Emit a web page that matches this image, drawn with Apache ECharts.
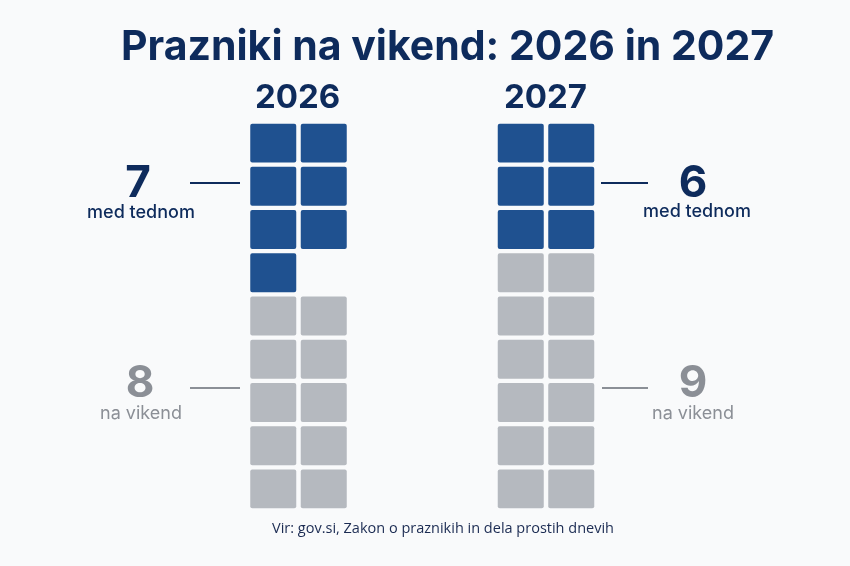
<!DOCTYPE html>
<html lang="sl">
<head>
<meta charset="UTF-8">
<title>Prazniki na vikend</title>
<script src="https://cdn.jsdelivr.net/npm/echarts@6/dist/echarts.min.js"></script>
<style>
  html, body { margin: 0; padding: 0; background: #f9fafb; }
</style>
</head>
<body>
<div id="main" style="width: 850px; height: 566px"></div>
<script>
// podatki
var years = ['2026', '2027'];
var weekdayHolidays = [7, 6];     // med tednom (številka na oznaki)
var weekendHolidays = [8, 9];     // na vikend (številka na oznaki)
var blueCells = [7, 6];           // narisane modre celice
var grayCells = [10, 12];         // narisane sive celice
var gridCols = ['a', 'b'];
var gridRows = ['1', '2', '3', '4', '5', '6', '7', '8', '9'];

var BLUE = '#1f5190';
var GRAY = '#b5b9bf';
var NAVY = '#0e2b5c';
var GRAY_TEXT = '#8b8f96';

// modre celice od zgoraj, sive se začnejo v novi vrstici
function cellsFor(i) {
    var out = [];
    for (var k = 0; k < blueCells[i]; k++) {
        out.push([k % 2, Math.floor(k / 2), 1]);
    }
    var startRow = Math.ceil(blueCells[i] / 2);
    for (var g = 0; g < grayCells[i]; g++) {
        out.push([g % 2, startRow + Math.floor(g / 2), 0]);
    }
    return out;
}

function renderCell(params, api) {
    var c = api.coord([api.value(0), api.value(1)]);
    var s = api.size([1, 1]);
    var w = s[0] - 4.5, h = s[1] - 4.3;
    return {
        type: 'rect',
        shape: { x: c[0] - w / 2, y: c[1] - h / 2, width: w, height: h, r: 2 },
        style: { fill: api.value(2) ? BLUE : GRAY }
    };
}

var gridLeft = [248, 495.5];
var grids = [], xAxes = [], yAxes = [], series = [];
years.forEach(function (y, i) {
    grids.push({ left: gridLeft[i], width: 101, top: 121.5, height: 389 });
    xAxes.push({ type: 'category', data: gridCols, gridIndex: i, show: false });
    yAxes.push({ type: 'category', data: gridRows, gridIndex: i, inverse: true, show: false });
    series.push({
        name: y, type: 'custom', xAxisIndex: i, yAxisIndex: i,
        renderItem: renderCell, data: cellsFor(i), silent: true
    });
});

var fontBold = 'Inter, Roboto, sans-serif';

var graphics = [
    // letnici nad stolpci
    { type: 'text', left: 255, top: 82, style: { text: years[0], font: 'bold 33px ' + fontBold, fill: NAVY } },
    { type: 'text', left: 504, top: 82, style: { text: years[1], font: 'bold 33px ' + fontBold, fill: NAVY } },

    // 2026 – med tednom
    { type: 'text', x: 138, y: 184, style: { text: String(weekdayHolidays[0]), font: 'bold 44px ' + fontBold, fill: NAVY, align: 'center', verticalAlign: 'middle' } },
    { type: 'text', x: 141, y: 213, style: { text: 'med tednom', font: '500 18px ' + fontBold, fill: NAVY, align: 'center', verticalAlign: 'middle' } },
    { type: 'line', shape: { x1: 190, y1: 183, x2: 240, y2: 183 }, style: { stroke: NAVY, lineWidth: 2 } },

    // 2026 – na vikend
    { type: 'text', x: 140, y: 384, style: { text: String(weekendHolidays[0]), font: 'bold 44px ' + fontBold, fill: GRAY_TEXT, align: 'center', verticalAlign: 'middle' } },
    { type: 'text', x: 141, y: 414, style: { text: 'na vikend', font: '18px ' + fontBold, fill: GRAY_TEXT, align: 'center', verticalAlign: 'middle' } },
    { type: 'line', shape: { x1: 190, y1: 388, x2: 240, y2: 388 }, style: { stroke: GRAY_TEXT, lineWidth: 2 } },

    // 2027 – med tednom
    { type: 'text', x: 693, y: 184, style: { text: String(weekdayHolidays[1]), font: 'bold 44px ' + fontBold, fill: NAVY, align: 'center', verticalAlign: 'middle' } },
    { type: 'text', x: 697, y: 212, style: { text: 'med tednom', font: '500 18px ' + fontBold, fill: NAVY, align: 'center', verticalAlign: 'middle' } },
    { type: 'line', shape: { x1: 601, y1: 183, x2: 648, y2: 183 }, style: { stroke: NAVY, lineWidth: 2 } },

    // 2027 – na vikend
    { type: 'text', x: 693, y: 384, style: { text: String(weekendHolidays[1]), font: 'bold 44px ' + fontBold, fill: GRAY_TEXT, align: 'center', verticalAlign: 'middle' } },
    { type: 'text', x: 693, y: 414, style: { text: 'na vikend', font: '18px ' + fontBold, fill: GRAY_TEXT, align: 'center', verticalAlign: 'middle' } },
    { type: 'line', shape: { x1: 602, y1: 388, x2: 648, y2: 388 }, style: { stroke: GRAY_TEXT, lineWidth: 2 } },

    // vir
    { type: 'text', x: 443, y: 529, style: { text: 'Vir: gov.si, Zakon o praznikih in dela prostih dnevih', font: '14.5px "Open Sans", Roboto, sans-serif', fill: '#1b2b52', align: 'center', verticalAlign: 'middle' } }
];

var option = {
    backgroundColor: '#f9fafb',
    animation: false,
    title: {
        text: 'Prazniki na vikend: 2026 in 2027',
        left: 116,
        top: 22,
        textStyle: { fontFamily: 'Inter', fontWeight: 'bold', fontSize: 41, color: NAVY }
    },
    grid: grids,
    xAxis: xAxes,
    yAxis: yAxes,
    series: series,
    graphic: graphics
};

var myChart = echarts.init(document.getElementById('main'));
myChart.setOption(option);
</script>
</body>
</html>
